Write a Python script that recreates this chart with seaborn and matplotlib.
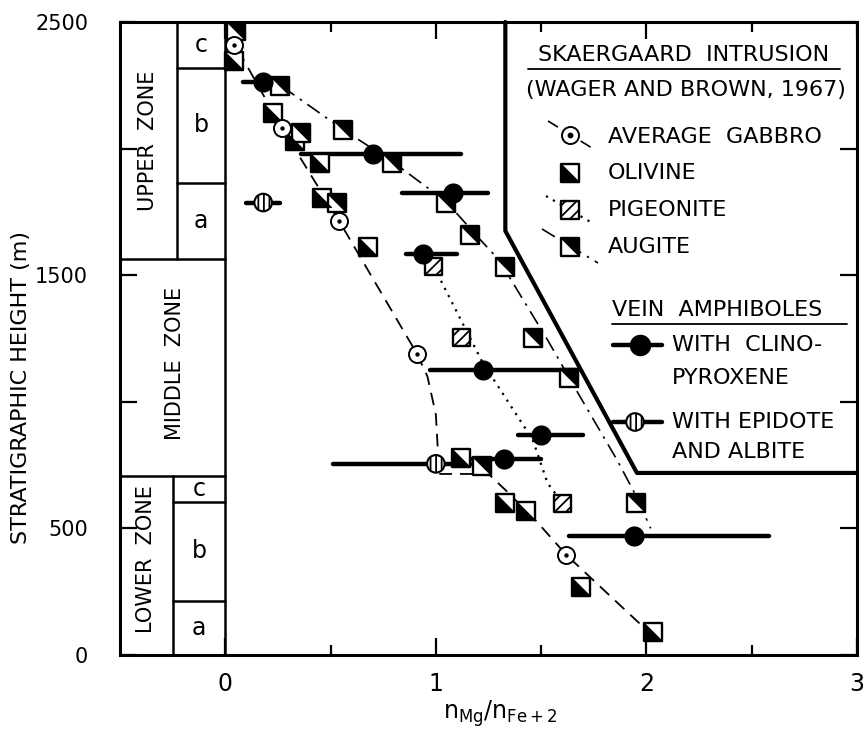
import numpy as np
import matplotlib
matplotlib.use("Agg")
import matplotlib.pyplot as plt
import seaborn as sns
from matplotlib.markers import MarkerStyle
from matplotlib.path import Path

sns.set_theme(style="ticks")
plt.rcParams["font.family"] = ["DejaVu Sans"]
plt.rcParams["hatch.linewidth"] = 1.3
plt.rcParams["hatch.color"] = "black"
for k in ["text.color", "axes.labelcolor", "xtick.color", "ytick.color", "axes.edgecolor"]:
    plt.rcParams[k] = "black"

# ---------------- data ----------------
gabbro_x = [0.04, 0.27, 0.54, 0.91, 1.62]
gabbro_y = [2410, 2080, 1715, 1190, 395]

olivine_x = [0.04, 0.225, 0.33, 0.45, 0.46, 0.68, 1.12, 1.33, 1.43, 1.69, 2.03]
olivine_y = [2345, 2142, 2030, 1945, 1806, 1613, 779, 601, 569, 269, 91]

augite_x = [0.05, 0.26, 0.36, 0.56, 0.53, 0.79, 1.05, 1.16, 1.33, 1.46, 1.63, 1.22, 1.95]
augite_y = [2465, 2249, 2060, 2075, 1787, 1945, 1787, 1660, 1534, 1253, 1095, 747, 600]

pigeonite_x = [0.99, 1.12, 1.60]
pigeonite_y = [1534, 1253, 600]

cpx_x = [0.18, 0.70, 1.08, 0.94, 1.225, 1.50, 1.325, 1.94]
cpx_y = [2265, 1980, 1826, 1585, 1126, 870, 775, 470]
cpx_lo = [0.085, 0.36, 0.84, 0.86, 0.97, 1.39, 1.15, 1.63]
cpx_hi = [0.28, 1.12, 1.25, 1.10, 1.67, 1.70, 1.50, 2.58]

epi_x = [0.18, 1.00]
epi_y = [1787, 755]
epi_lo = [0.10, 0.51]
epi_hi = [0.26, 1.20]

# trend curves
gabbro_trend_x = [0.06, 0.27, 0.54, 0.91, 0.96, 1.00, 1.01, 1.01, 1.25, 1.34, 1.48, 1.62, 1.95, 2.00]
gabbro_trend_y = [2390, 2080, 1715, 1190, 1100, 950, 800, 715, 715, 644, 526, 395, 138, 100]
pigeonite_trend_x = [0.99, 1.22, 1.46, 1.53, 1.60]
pigeonite_trend_y = [1534, 1158, 850, 680, 600]
augite_trend_x = [0.27, 0.56, 0.80, 1.05, 1.20, 1.30, 1.53, 1.685, 1.86, 1.95, 2.02]
augite_trend_y = [2245, 2075, 1945, 1790, 1650, 1560, 1245, 1020, 771, 630, 500]

# stratigraphic column boundaries (m)
upper_bounds = [2500, 2320, 1866, 1564]   # c, b, a
lower_bounds = [707, 605, 215, 0]         # c, b, a
sub_labels = ["c", "b", "a"]

# boundary of the key box (data coords)
key_x = [1.33, 1.33, 1.955, 3.0]
key_y = [2500, 1675, 719, 719]

# ---------------- figure ----------------
fig = plt.figure(figsize=(8.66, 7.33), dpi=100)
ax = fig.add_axes([120 / 866, 78 / 733, 737 / 866, 633 / 733])
ax.set_facecolor("white")

DASH = (0, (7, 4.5))
DOT = (0, (1, 2.6))
DASHDOT = (0, (9, 4, 1.5, 4))

sns.lineplot(x=gabbro_trend_x, y=gabbro_trend_y, sort=False, estimator=None,
             color="black", linewidth=1.3, linestyle=DASH, ax=ax, zorder=2)
sns.lineplot(x=pigeonite_trend_x, y=pigeonite_trend_y, sort=False, estimator=None,
             color="black", linewidth=1.6, linestyle=DOT, ax=ax, zorder=2)
sns.lineplot(x=augite_trend_x, y=augite_trend_y, sort=False, estimator=None,
             color="black", linewidth=1.2, linestyle=DASHDOT, ax=ax, zorder=2)

# key box outline
ax.plot(key_x, key_y, color="black", lw=3, solid_joinstyle="round", zorder=3, clip_on=False)

# horizontal ranges of vein amphiboles
ax.hlines(cpx_y, cpx_lo, cpx_hi, color="black", lw=3.2, zorder=3, capstyle="round")
ax.hlines(epi_y, epi_lo, epi_hi, color="black", lw=3.2, zorder=3, capstyle="round")

SQ = 150
tri_ll = MarkerStyle(Path([(-1, 1), (-1, -1), (1, -1), (-1, 1)],
                          [Path.MOVETO, Path.LINETO, Path.LINETO, Path.CLOSEPOLY]))
tri_ur = MarkerStyle(Path([(-1, 1), (1, 1), (1, -1), (-1, 1)],
                          [Path.MOVETO, Path.LINETO, Path.LINETO, Path.CLOSEPOLY]))


def half_squares(xs, ys, tri):
    sns.scatterplot(x=xs, y=ys, marker="s", s=SQ, color="white", edgecolor="black",
                    linewidth=1.7, ax=ax, zorder=5, legend=False)
    sns.scatterplot(x=xs, y=ys, marker=tri, s=SQ, color="black", edgecolor="black",
                    linewidth=0.8, ax=ax, zorder=6, legend=False)


half_squares(olivine_x, olivine_y, tri_ll)
half_squares(augite_x, augite_y, tri_ur)
sns.scatterplot(x=pigeonite_x, y=pigeonite_y, marker="s", s=SQ, color="white",
                edgecolor="black", linewidth=1.7, hatch="///", ax=ax, zorder=5, legend=False)

# average gabbro
sns.scatterplot(x=gabbro_x, y=gabbro_y, marker="o", s=150, color="white",
                edgecolor="black", linewidth=1.4, ax=ax, zorder=7, legend=False)
sns.scatterplot(x=gabbro_x, y=gabbro_y, marker="o", s=10, color="black",
                edgecolor="black", linewidth=0, ax=ax, zorder=8, legend=False)

# vein amphiboles
sns.scatterplot(x=cpx_x, y=cpx_y, marker="o", s=210, color="black",
                edgecolor="black", linewidth=0, ax=ax, zorder=9, legend=False)
sns.scatterplot(x=epi_x, y=epi_y, marker="o", s=160, color="white", hatch="|||",
                edgecolor="black", linewidth=1.5, ax=ax, zorder=9, legend=False)

# ---------------- stratigraphic column ----------------
LW = 1.8
ax.plot([0, 0], [0, 2500], color="black", lw=LW, zorder=4)
ax.plot([-0.5, 0], [upper_bounds[-1]] * 2, color="black", lw=LW, zorder=4)
ax.plot([-0.5, 0], [lower_bounds[0]] * 2, color="black", lw=LW, zorder=4)
ax.plot([-0.23, -0.23], [upper_bounds[-1], 2500], color="black", lw=LW, zorder=4)
ax.plot([-0.25, -0.25], [0, lower_bounds[0]], color="black", lw=LW, zorder=4)
for yb in upper_bounds[1:-1]:
    ax.plot([-0.23, 0], [yb, yb], color="black", lw=LW, zorder=4)
for yb in lower_bounds[1:-1]:
    ax.plot([-0.25, 0], [yb, yb], color="black", lw=LW, zorder=4)
for i, lab in enumerate(sub_labels):
    ax.text(-0.115, (upper_bounds[i] + upper_bounds[i + 1]) / 2, lab, ha="center",
            va="center", fontsize=17)
    ax.text(-0.125, (lower_bounds[i] + lower_bounds[i + 1]) / 2, lab, ha="center",
            va="center", fontsize=17)
ax.text(-0.365, (upper_bounds[0] + upper_bounds[-1]) / 2, "UPPER  ZONE", rotation=90,
        ha="center", va="center", fontsize=15)
ax.text(-0.24, 1150, "MIDDLE  ZONE", rotation=90, ha="center", va="center", fontsize=15)
ax.text(-0.375, 380, "LOWER  ZONE", rotation=90, ha="center", va="center", fontsize=15)

# ---------------- axes ----------------
ax.set_xlim(-0.5, 3.0)
ax.set_ylim(0, 2500)
ax.set_xticks([0, 1, 2, 3])
ax.set_xticklabels(["0", "1", "2", "3"])
ax.set_xticks([0.5, 1.5, 2.5], minor=True)
ax.set_yticks([0, 500, 1000, 1500, 2000, 2500])
ax.set_yticklabels(["0", "500", "", "1500", "", "2500"])
ax.tick_params(which="both", direction="in", top=True, right=True, width=1.6, color="black")
ax.tick_params(which="major", length=12.5)
ax.tick_params(which="minor", length=7)
ax.tick_params(axis="x", pad=12, labelsize=17, labelcolor="black")
ax.tick_params(axis="y", pad=23, labelsize=15, labelcolor="black")
for sp in ax.spines.values():
    sp.set_linewidth(2.2)
    sp.set_color("black")
ax.grid(False)

ax.set_ylabel("STRATIGRAPHIC HEIGHT (m)", fontsize=16, color="black")
ax.yaxis.set_label_coords(-0.121, 0.423)
ax.set_xlabel("")
ax.text(0.516, -0.092, r"$\mathregular{n_{Mg}/n_{Fe+2}}$", transform=ax.transAxes,
        ha="center", va="center", fontsize=17)

# ---------------- key ----------------
T = ax.transAxes
def px(xp, yp):
    return (xp - 120) / 737, (655 - yp) / 633

FS = 16
x0, y0 = px(684, 55)
ax.text(x0, y0, "SKAERGAARD  INTRUSION", transform=T, ha="center", va="center", fontsize=FS)
a, b = px(528, 69); c, _ = px(840, 69)
ax.plot([a, c], [b, b], transform=T, color="black", lw=1.3)
x0, y0 = px(686, 90)
ax.text(x0, y0, "(WAGER AND BROWN, 1967)", transform=T, ha="center", va="center", fontsize=FS)

tx, _ = px(608, 0)
rows = [("AVERAGE  GABBRO", 137), ("OLIVINE", 173), ("PIGEONITE", 210), ("AUGITE", 247)]
for lab, yp in rows:
    ax.text(tx, px(0, yp)[1], lab, transform=T, ha="left", va="center", fontsize=FS)

ix = px(570, 0)[0]
# gabbro icon
p1, p2 = px(548, 121), px(592, 148)
ax.plot([p1[0], p2[0]], [p1[1], p2[1]], transform=T, color="black", lw=1.2, ls=DASH)
gy = px(0, 135)[1]
ax.scatter([ix], [gy], transform=T, marker="o", s=150, facecolor="white", edgecolor="black", lw=1.4, zorder=7)
ax.scatter([ix], [gy], transform=T, marker="o", s=10, color="black", zorder=8)
# olivine icon
oy = px(0, 173)[1]
ax.scatter([ix], [oy], transform=T, marker="s", s=SQ, facecolor="white", edgecolor="black", lw=1.7, zorder=7)
ax.scatter([ix], [oy], transform=T, marker=tri_ll, s=SQ, color="black", lw=0.8, zorder=8)
# pigeonite icon
p1, p2 = px(546, 196), px(594, 224)
ax.plot([p1[0], p2[0]], [p1[1], p2[1]], transform=T, color="black", lw=1.6, ls=DOT)
py_ = px(0, 210)[1]
ax.scatter([ix], [py_], transform=T, marker="s", s=SQ, facecolor="white", edgecolor="black",
           lw=1.7, hatch="///", zorder=7)
# augite icon
p1, p2 = px(542, 229), px(598, 263)
ax.plot([p1[0], p2[0]], [p1[1], p2[1]], transform=T, color="black", lw=1.2, ls=DASHDOT)
ay = px(0, 247)[1]
ax.scatter([ix], [ay], transform=T, marker="s", s=SQ, facecolor="white", edgecolor="black", lw=1.7, zorder=7)
ax.scatter([ix], [ay], transform=T, marker=tri_ur, s=SQ, color="black", lw=0.8, zorder=8)

# vein amphiboles
vx, vy = px(612, 310)
ax.text(vx, vy, "VEIN  AMPHIBOLES", transform=T, ha="left", va="center", fontsize=FS)
a, b = px(612, 324); c, _ = px(847, 324)
ax.plot([a, c], [b, b], transform=T, color="black", lw=1.3)

l1, l2 = px(613, 345), px(662, 345)
ax.plot([l1[0], l2[0]], [l1[1], l2[1]], transform=T, color="black", lw=3.2)
ax.scatter([px(640, 0)[0]], [l1[1]], transform=T, marker="o", s=210, color="black", zorder=8)
tx2 = px(672, 0)[0]
ax.text(tx2, l1[1], "WITH  CLINO-", transform=T, ha="left", va="center", fontsize=FS)
ax.text(tx2, px(0, 378)[1], "PYROXENE", transform=T, ha="left", va="center", fontsize=FS)

l1, l2 = px(613, 422), px(662, 422)
ax.plot([l1[0], l2[0]], [l1[1], l2[1]], transform=T, color="black", lw=3.2)
ax.scatter([px(635, 0)[0]], [l1[1]], transform=T, marker="o", s=160, facecolor="white",
           edgecolor="black", lw=1.5, hatch="|||", zorder=8)
ax.text(tx2, l1[1], "WITH EPIDOTE", transform=T, ha="left", va="center", fontsize=FS)
ax.text(tx2, px(0, 452)[1], "AND ALBITE", transform=T, ha="left", va="center", fontsize=FS)

fig.savefig("out.png", dpi=100, facecolor="white")
